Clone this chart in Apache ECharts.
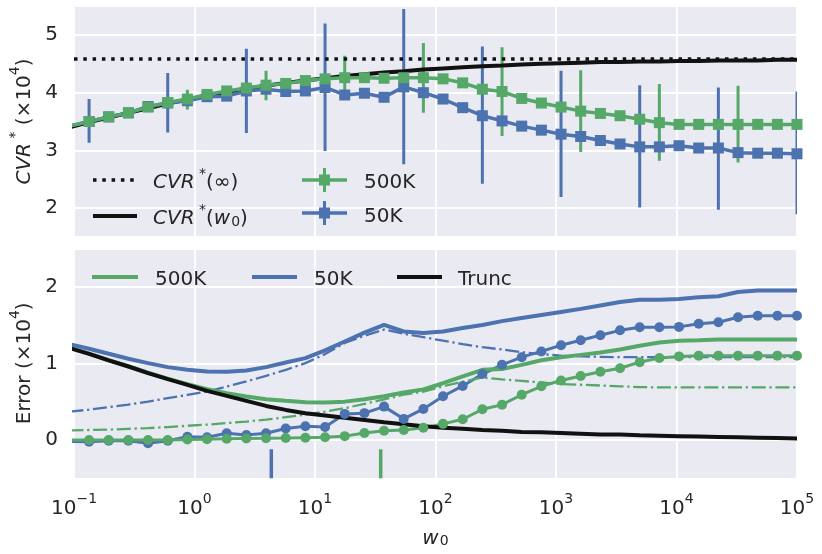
<!DOCTYPE html>
<html><head><meta charset="utf-8">
<script src="https://cdn.jsdelivr.net/npm/echarts@6/dist/echarts.min.js"></script>
<style>html,body{margin:0;padding:0;background:#fff}#c{width:822px;height:554px}</style>
</head><body><div id="c"></div>
<script>
// x grid (w0), first point lies just left of the axis and is clipped
const w0 = [0.0916, 0.1334, 0.1942, 0.2828, 0.4117, 0.5995, 0.8729, 1.271, 1.851, 2.695,
  3.925, 5.715, 8.322, 12.12, 17.65, 25.70, 37.42, 54.49, 79.34, 115.5,
  168.2, 244.9, 356.6, 519.3, 756.2, 1101, 1603, 2335, 3400, 4951,
  7209, 10498, 15287, 22260, 32415, 47203, 68736, 100000];

// top panel: CVR*
const cvrInf = 4.59;
const cvrW0 = [3.40, 3.49, 3.57, 3.65, 3.73, 3.81, 3.88, 3.95, 4.01, 4.07,
  4.12, 4.17, 4.21, 4.25, 4.29, 4.32, 4.35, 4.37, 4.40, 4.42,
  4.44, 4.46, 4.47, 4.49, 4.50, 4.51, 4.52, 4.53, 4.53, 4.54,
  4.54, 4.55, 4.55, 4.56, 4.56, 4.56, 4.57, 4.57];
const cvr500K = [3.42, 3.50, 3.58, 3.65, 3.75, 3.83, 3.89, 3.97, 4.03, 4.08,
  4.13, 4.16, 4.21, 4.24, 4.26, 4.26, 4.25, 4.26, 4.26, 4.24,
  4.17, 4.06, 4.02, 3.90, 3.82, 3.75, 3.68, 3.64, 3.60, 3.54,
  3.48, 3.45, 3.45, 3.45, 3.45, 3.45, 3.45, 3.45];
const cvr50K = [3.42, 3.50, 3.58, 3.65, 3.76, 3.82, 3.86, 3.93, 3.94, 4.03,
  4.06, 4.02, 4.03, 4.09, 3.96, 3.99, 3.92, 4.10, 4.00, 3.89,
  3.74, 3.60, 3.51, 3.42, 3.35, 3.28, 3.24, 3.17, 3.11, 3.06,
  3.06, 3.08, 3.04, 3.04, 2.96, 2.95, 2.95, 2.94];
// error bars: position in w0 list, low, high
const err50KAt = [1, 5, 9, 13, 17, 21, 25, 29, 33, 37];
const err50KLow = [3.13, 3.31, 3.30, 2.99, 2.76, 2.42, 2.19, 2.01, 1.97, 1.89];
const err50KHigh = [3.89, 4.34, 4.76, 5.20, 5.45, 4.80, 4.38, 4.13, 4.09, 4.02];
const err500KAt = [2, 6, 10, 14, 18, 22, 26, 30, 34];
const err500KLow = [3.52, 3.71, 3.87, 3.89, 3.65, 3.25, 2.97, 2.82, 2.79];
const err500KHigh = [3.64, 4.05, 4.38, 4.64, 4.86, 4.79, 4.39, 4.15, 4.12];

// bottom panel: Error
const err50KTotal = [1.25, 1.19, 1.124, 1.059, 1.002, 0.95, 0.915, 0.893, 0.889, 0.906,
  0.95, 1.01, 1.068, 1.168, 1.285, 1.40, 1.50, 1.415, 1.395, 1.415,
  1.46, 1.50, 1.55, 1.59, 1.63, 1.67, 1.71, 1.755, 1.80, 1.83,
  1.83, 1.84, 1.86, 1.875, 1.93, 1.95, 1.95, 1.95];
const err50KDash = [0.37, 0.395, 0.427, 0.462, 0.501, 0.545, 0.588, 0.632, 0.697, 0.763,
  0.837, 0.915, 1.002, 1.12, 1.265, 1.36, 1.44, 1.385, 1.34, 1.295,
  1.25, 1.21, 1.18, 1.145, 1.12, 1.10, 1.09, 1.085, 1.08, 1.08,
  1.08, 1.08, 1.08, 1.08, 1.08, 1.08, 1.08, 1.08];
const err50KDots = [-0.02, -0.022, -0.01, -0.01, -0.043, -0.01, 0.043, 0.035, 0.087, 0.065,
  0.087, 0.15, 0.18, 0.17, 0.34, 0.35, 0.435, 0.275, 0.405, 0.57,
  0.705, 0.86, 0.98, 1.08, 1.155, 1.235, 1.30, 1.365, 1.43, 1.47,
  1.47, 1.475, 1.515, 1.535, 1.60, 1.62, 1.62, 1.62];
const err500KTotal = [1.20, 1.127, 1.04, 0.962, 0.877, 0.80, 0.728, 0.663, 0.61, 0.566,
  0.532, 0.51, 0.493, 0.488, 0.50, 0.53, 0.57, 0.62, 0.66, 0.74,
  0.83, 0.915, 0.925, 0.98, 1.04, 1.08, 1.11, 1.14, 1.18, 1.23,
  1.27, 1.295, 1.30, 1.31, 1.31, 1.31, 1.31, 1.31];
const err500KDash = [0.125, 0.13, 0.135, 0.145, 0.155, 0.168, 0.185, 0.20, 0.22, 0.24,
  0.265, 0.297, 0.33, 0.37, 0.415, 0.47, 0.53, 0.59, 0.63, 0.70,
  0.76, 0.815, 0.79, 0.77, 0.75, 0.73, 0.72, 0.71, 0.70, 0.69,
  0.685, 0.685, 0.685, 0.685, 0.685, 0.685, 0.685, 0.685];
const err500KDots = [0.0, 0.0, 0.0, 0.0, 0.0, 0.0, 0.005, 0.01, 0.015, 0.02,
  0.022, 0.025, 0.03, 0.035, 0.05, 0.09, 0.12, 0.13, 0.16, 0.21,
  0.27, 0.40, 0.46, 0.59, 0.70, 0.775, 0.835, 0.89, 0.935, 1.015,
  1.07, 1.09, 1.10, 1.10, 1.10, 1.10, 1.10, 1.10];
const errTrunc = [1.20, 1.124, 1.037, 0.958, 0.872, 0.793, 0.719, 0.64, 0.575, 0.51,
  0.444, 0.392, 0.349, 0.32, 0.29, 0.26, 0.23, 0.205, 0.18, 0.16,
  0.145, 0.13, 0.12, 0.105, 0.10, 0.09, 0.08, 0.07, 0.07, 0.06,
  0.055, 0.05, 0.045, 0.04, 0.035, 0.03, 0.025, 0.02];
// best w0 markers at the bottom
const bestW0_50K = 4.34;
const bestW0_500K = 35.1;
const bestMarkSpan = [-0.5, -0.12];

const BLUE = '#4C72B0', GREEN = '#55A868', BLACK = '#111111', TXT = '#262626';
const FONT = 'DejaVu Sans';

const pairs = ys => ys.map((y, i) => [w0[i], y]);
const bars = (at, lo, hi) => at.map((k, i) => [w0[k], lo[i], hi[i]]);
function errRender(color) {
  return function (params, api) {
    const a = api.coord([api.value(0), api.value(1)]);
    const b = api.coord([api.value(0), api.value(2)]);
    return { type: 'line', shape: { x1: a[0], y1: a[1], x2: b[0], y2: b[1] },
      style: { stroke: color, lineWidth: 3 } };
  };
}
// rich text styles (mathtext look)
const RICH = {
  n: { fontSize: 20, fontFamily: FONT, color: TXT, fill: TXT, lineHeight: 26, verticalAlign: 'bottom' },
  i: { fontSize: 20, fontFamily: FONT, color: TXT, fill: TXT, fontStyle: 'italic', lineHeight: 26, verticalAlign: 'bottom' },
  s: { fontSize: 14, fontFamily: FONT, color: TXT, fill: TXT, lineHeight: 14, verticalAlign: 'top' },
  d: { fontSize: 14, fontFamily: FONT, color: TXT, fill: TXT, lineHeight: 14, verticalAlign: 'bottom', padding: [0, 0, 0, 1] }
};
const logFmt = v => '{n|10}{s|' + String(Math.round(Math.log10(v))).replace('-', '−') + '}';
const intFmt = v => Math.abs(v - Math.round(v)) < 1e-6 ? String(Math.round(v)) : '';

const gridL = 74, gridW = 723;
const xBase = {
  type: 'log', logBase: 10, min: 0.1, max: 100000, splitNumber: 6,
  axisLine: { show: false }, axisTick: { show: false },
  splitLine: { show: true, lineStyle: { color: '#ffffff', width: 1.8 } },
  minorTick: { show: false }, minorSplitLine: { show: false }
};
const yBase = {
  type: 'value', axisLine: { show: false }, axisTick: { show: false },
  splitLine: { show: true, lineStyle: { color: '#ffffff', width: 1.8 } },
  axisLabel: { formatter: intFmt, color: TXT, fontSize: 20, fontFamily: FONT, margin: 16,
    showMinLabel: false, showMaxLabel: false },
  nameLocation: 'middle', nameRotate: 90, nameGap: 36,
  nameTextStyle: { color: TXT, fontSize: 20, fontFamily: FONT, rich: RICH }
};

const lineS = (name, data, color, width, extra) => Object.assign({
  type: 'line', name, data, xAxisIndex: 0, yAxisIndex: 0, showSymbol: false, symbol: 'none',
  lineStyle: { color, width }, itemStyle: { color }, z: 2, clip: true, silent: true
}, extra || {});

const option = {
  animation: false,
  backgroundColor: '#ffffff',
  grid: [
    { left: gridL, top: 6.2, width: gridW, height: 230.6, show: true, backgroundColor: '#EAEAF2', borderWidth: 0 },
    { left: gridL, top: 248.3, width: gridW, height: 230, show: true, backgroundColor: '#EAEAF2', borderWidth: 0 }
  ],
  xAxis: [
    Object.assign({}, xBase, { gridIndex: 0, axisLabel: { show: false } }),
    Object.assign({}, xBase, { gridIndex: 1,
      axisLabel: { show: true, formatter: logFmt, color: TXT, fontSize: 20, fontFamily: FONT, margin: 14, rich: RICH },
      name: '{i|w}{d|0}', nameLocation: 'middle', nameGap: 44,
      nameTextStyle: { color: TXT, fontSize: 20, fontFamily: FONT, rich: RICH } })
  ],
  yAxis: [
    Object.assign({}, yBase, { gridIndex: 0, min: 1.5, max: 5.5, splitNumber: 4,
      name: '{i|CVR}{s| *}{n| (×10}{s|4}{n|)}' }),
    Object.assign({}, yBase, { gridIndex: 1, min: -0.5, max: 2.5, splitNumber: 3,
      name: '{n|Error (×10}{s|4}{n|)}' })
  ],
  series: [
    // ---- top panel
    lineS('cvrW0', pairs(cvrW0), BLACK, 4, {
      markLine: { silent: true, symbol: 'none', label: { show: false },
        lineStyle: { color: BLACK, width: 3.5, type: [3.5, 5.8], cap: 'butt' },
        data: [{ yAxis: cvrInf }] } }),
    { type: 'custom', name: 'err50K', xAxisIndex: 0, yAxisIndex: 0, clip: true, silent: true, z: 2,
      data: bars(err50KAt, err50KLow, err50KHigh), renderItem: errRender(BLUE), encode: { x: 0, y: [1, 2] } },
    lineS('50K', pairs(cvr50K), BLUE, 3.5, { showSymbol: true, symbol: 'rect', symbolSize: 11 }),
    { type: 'custom', name: 'err500K', xAxisIndex: 0, yAxisIndex: 0, clip: true, silent: true, z: 2,
      data: bars(err500KAt, err500KLow, err500KHigh), renderItem: errRender(GREEN), encode: { x: 0, y: [1, 2] } },
    lineS('500K', pairs(cvr500K), GREEN, 3.5, { showSymbol: true, symbol: 'rect', symbolSize: 11 }),
    // ---- bottom panel
    lineS('50K total', pairs(err50KTotal), BLUE, 4, { xAxisIndex: 1, yAxisIndex: 1 }),
    lineS('50K dash', pairs(err50KDash), BLUE, 2.3, { xAxisIndex: 1, yAxisIndex: 1,
      lineStyle: { color: BLUE, width: 2.3, type: [14, 3.7, 2.3, 3.7] } }),
    lineS('50K dots', pairs(err50KDots), BLUE, 3, { xAxisIndex: 1, yAxisIndex: 1,
      showSymbol: true, symbol: 'circle', symbolSize: 10 }),
    lineS('500K total', pairs(err500KTotal), GREEN, 4, { xAxisIndex: 1, yAxisIndex: 1 }),
    lineS('500K dash', pairs(err500KDash), GREEN, 2.3, { xAxisIndex: 1, yAxisIndex: 1,
      lineStyle: { color: GREEN, width: 2.3, type: [14, 3.7, 2.3, 3.7] } }),
    lineS('500K dots', pairs(err500KDots), GREEN, 3, { xAxisIndex: 1, yAxisIndex: 1,
      showSymbol: true, symbol: 'circle', symbolSize: 10 }),
    lineS('Trunc', pairs(errTrunc), BLACK, 4, { xAxisIndex: 1, yAxisIndex: 1 }),
    lineS('best50K', bestMarkSpan.map(v => [bestW0_50K, v]), BLUE, 3.5, { xAxisIndex: 1, yAxisIndex: 1 }),
    lineS('best500K', bestMarkSpan.map(v => [bestW0_500K, v]), GREEN, 3.5, { xAxisIndex: 1, yAxisIndex: 1 })
  ],
  graphic: []
};

// ---- legends (drawn as graphics)
const G = option.graphic;
const seg = (x1, y1, x2, y2, color, w, dash) => G.push({ type: 'line', silent: true, z: 10,
  shape: { x1, y1, x2, y2 }, style: { stroke: color, lineWidth: w, lineDash: dash || null, lineCap: 'butt' } });
const txt = (x, y, text) => G.push({ type: 'text', silent: true, z: 10, x, y,
  style: { text, fill: TXT, fontSize: 20, fontFamily: FONT, verticalAlign: 'middle', align: 'left', rich: RICH } });
const ebIcon = (cx, y, color) => {
  seg(cx - 22.5, y, cx + 22.5, y, color, 3.5);
  seg(cx, y - 12, cx, y + 12, color, 3);
  G.push({ type: 'rect', silent: true, z: 10, shape: { x: cx - 5.5, y: y - 5.5, width: 11, height: 11 }, style: { fill: color } });
};
// top legend
seg(93, 180, 137, 180, BLACK, 3.5, [3.5, 5.8]);
txt(153, 180, '{i|CVR}{s| *}{n|(∞)}');
seg(93, 216, 137, 216, BLACK, 4);
txt(153, 216, '{i|CVR}{s| *}{n|(}{i|w}{d|0}{n|)}');
ebIcon(324.5, 180, GREEN);
txt(364, 180, '{n|500K}');
ebIcon(324.5, 213, BLUE);
txt(364, 214, '{n|50K}');
// bottom legend
seg(92, 277, 138, 277, GREEN, 4);
txt(155, 277, '{n|500K}');
seg(252, 277, 297, 277, BLUE, 4);
txt(314, 277, '{n|50K}');
seg(397, 277, 442, 277, BLACK, 4);
txt(458, 277, '{n|Trunc}');

const chart = echarts.init(document.getElementById('c'), null, { renderer: 'canvas' });
chart.setOption(option);
</script>
</body></html>
